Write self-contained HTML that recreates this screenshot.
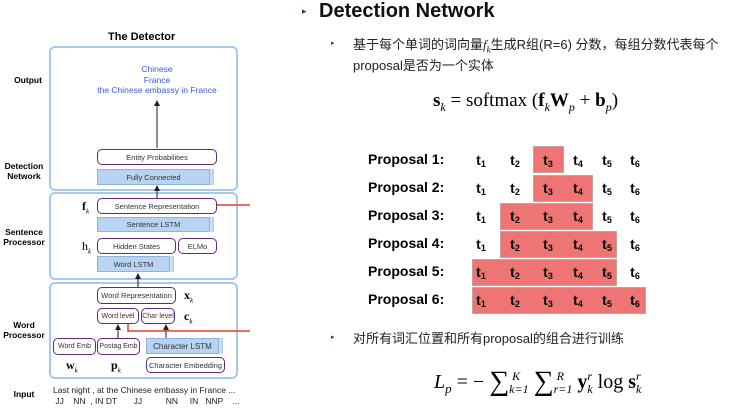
<!DOCTYPE html><html><head><meta charset="utf-8"><style>
body{margin:0;width:738px;height:413px;position:relative;background:#fff;font-family:"Liberation Sans","Noto Sans CJK SC",sans-serif;overflow:hidden}
.a{position:absolute}
.ob{position:absolute;border:2px solid #a8c8ec;border-radius:6px}
.w{position:absolute;border:1.5px solid #5b2c7a;border-radius:5px;background:#fff;font-size:7.5px;color:#333;display:flex;align-items:center;justify-content:center;box-sizing:border-box;white-space:nowrap}
.b{position:absolute;background:#b9d3f3;border:1px solid #8fb3e0;box-shadow:2px 0 0 #cfe0f6,4px 0 0 #b9d3f3;font-size:7.5px;color:#333;display:flex;align-items:center;justify-content:center;box-sizing:border-box}
.lab{position:absolute;font-size:8.5px;font-weight:bold;text-align:center;line-height:10px}
.m{position:absolute;font-family:"Liberation Serif",serif}
.m sub,.m sup{line-height:0}
.p{position:absolute;font-size:14px;font-weight:bold;left:368px}
.t{position:absolute;font-size:14px;font-weight:bold;width:30px;text-align:center;line-height:16px}
.t span{font-size:9px;position:relative;top:2px}
.r{position:absolute;background:#ef7575;border:1px solid #c9a0a0;box-sizing:border-box}
.lim{display:inline-block;vertical-align:middle;font-size:12px;line-height:13px;text-align:left;font-style:italic}
</style></head><body>
<div class="a" style="left:108px;top:31px;font-size:11px;font-weight:bold">The Detector</div>
<div class="ob" style="left:49px;top:46px;width:185px;height:141px"></div>
<div class="ob" style="left:49px;top:192px;width:185px;height:84px"></div>
<div class="ob" style="left:49px;top:282px;width:185px;height:93px"></div>
<div class="lab" style="left:8px;top:75px;width:40px">Output</div>
<div class="lab" style="left:0px;top:161px;width:48px">Detection<br>Network</div>
<div class="lab" style="left:0px;top:227px;width:48px">Sentence<br>Processor</div>
<div class="lab" style="left:0px;top:320px;width:48px">Word<br>Processor</div>
<div class="lab" style="left:6px;top:389px;width:36px">Input</div>
<div class="a" style="left:70px;top:64px;width:174px;text-align:center;color:#3a57e0;font-size:8.5px;line-height:10.5px">Chinese<br>France<br>the Chinese embassy in France</div>
<svg class="a" style="left:0;top:0" width="260" height="413">
<defs><marker id="ar" markerWidth="6" markerHeight="6" refX="3" refY="3" orient="auto"><path d="M0,0L6,3L0,6z" fill="#222"/></marker></defs>
<line x1="157" y1="148" x2="157" y2="103" stroke="#222" stroke-width="1" marker-end="url(#ar)"/>
<line x1="157" y1="198" x2="157" y2="188" stroke="#222" stroke-width="1" marker-end="url(#ar)"/>
<line x1="138" y1="287" x2="138" y2="276" stroke="#222" stroke-width="1" marker-end="url(#ar)"/>
<line x1="118" y1="338" x2="118" y2="327" stroke="#222" stroke-width="1" marker-end="url(#ar)"/>
<line x1="166" y1="338" x2="166" y2="327" stroke="#222" stroke-width="1" marker-end="url(#ar)"/>
<line x1="217" y1="205" x2="250" y2="205" stroke="#e0402a" stroke-width="1.5"/>
<polyline points="128,324 128,331 250,331" fill="none" stroke="#e0402a" stroke-width="1.5"/>
</svg>
<div class="w" style="left:97px;top:149px;width:120px;height:16px">Entity Probabilities</div>
<div class="b" style="left:97px;top:169px;width:113px;height:16px">Fully Connected</div>
<div class="w" style="left:97px;top:198px;width:120px;height:16px">Sentence Representation</div>
<div class="b" style="left:97px;top:217px;width:113px;height:15px">Sentence LSTM</div>
<div class="w" style="left:97px;top:238px;width:79px;height:16px">Hidden States</div>
<div class="w" style="left:178px;top:238px;width:39px;height:16px">ELMo</div>
<div class="b" style="left:97px;top:256px;width:73px;height:16px">Word LSTM</div>
<div class="w" style="left:97px;top:287px;width:79px;height:17px">Word Representation</div>
<div class="w" style="left:97px;top:308px;width:42px;height:16px;font-size:7px">Word level</div>
<div class="w" style="left:141px;top:308px;width:34px;height:16px;font-size:7px">Char level</div>
<div class="w" style="left:53px;top:338px;width:43px;height:17px;font-size:7px">Word Emb</div>
<div class="w" style="left:97px;top:338px;width:43px;height:17px;font-size:7px">Postag Emb</div>
<div class="b" style="left:146px;top:338px;width:73px;height:16px;font-size:8px">Character LSTM</div>
<div class="w" style="left:146px;top:357px;width:79px;height:16px">Character Embedding</div>
<div class="m" style="left:82px;top:199px;font-size:12px;font-weight:bold">f<sub style="font-size:7px;font-style:italic;font-weight:normal">k</sub></div>
<div class="m" style="left:82px;top:239px;font-size:12px">h<sub style="font-size:7px;font-style:italic">k</sub></div>
<div class="m" style="left:184px;top:288px;font-size:12px;font-weight:bold">x<sub style="font-size:7px;font-style:italic;font-weight:normal">k</sub></div>
<div class="m" style="left:184px;top:309px;font-size:12px;font-weight:bold">c<sub style="font-size:7px;font-style:italic;font-weight:normal">k</sub></div>
<div class="m" style="left:66px;top:358px;font-size:12px;font-weight:bold">w<sub style="font-size:7px;font-style:italic;font-weight:normal">k</sub></div>
<div class="m" style="left:111px;top:358px;font-size:12px;font-weight:bold">p<sub style="font-size:7px;font-style:italic;font-weight:normal">k</sub></div>
<div class="a" style="left:53px;top:385px;font-size:8.5px;line-height:11px;white-space:pre;color:#222">Last night , at the Chinese embassy in France ...
 JJ    NN  , IN DT       JJ          NN     IN   NNP    ...</div>

<div class="a" style="left:302px;top:6px;font-size:9px;color:#1f3e6e">▸</div>
<div class="a" style="left:319px;top:0px;font-size:20px;font-weight:bold;color:#111">Detection Network</div>
<div class="a" style="left:331px;top:39px;font-size:7px;color:#1f3e6e">▸</div>
<div class="a" style="left:353px;top:34px;font-size:13px;line-height:21px;color:#222;width:385px">基于每个单词的词向量<i style="font-family:'Liberation Serif',serif">f<sub style="font-size:9px;line-height:0">k</sub></i>生成R组(R=6) 分数，每组分数代表每个<br>proposal是否为一个实体</div>
<div class="m" style="left:433px;top:90px;font-size:19px"><b>s</b><sub style="font-size:12px;font-style:italic">k</sub> = softmax (<b>f</b><sub style="font-size:12px;font-style:italic">k</sub><b>W</b><sub style="font-size:12px;font-style:italic">p</sub> + <b>b</b><sub style="font-size:12px;font-style:italic">p</sub>)</div>

<div class="r" style="left:533px;top:146px;width:31px;height:27px"></div>
<div class="r" style="left:533px;top:175px;width:60px;height:27px"></div>
<div class="r" style="left:500px;top:203px;width:93px;height:27px"></div>
<div class="r" style="left:500px;top:231px;width:117px;height:27px"></div>
<div class="r" style="left:472px;top:259px;width:145px;height:27px"></div>
<div class="r" style="left:472px;top:287px;width:174px;height:27px"></div>
<div class="p" style="top:151px">Proposal 1:</div>
<div class="p" style="top:179px">Proposal 2:</div>
<div class="p" style="top:207px">Proposal 3:</div>
<div class="p" style="top:235px">Proposal 4:</div>
<div class="p" style="top:263px">Proposal 5:</div>
<div class="p" style="top:291px">Proposal 6:</div>
<div id="g"></div>
<script>
var xs=[466,500,533,563,592,620],h='';
for(var r=0;r<6;r++)for(var c=0;c<6;c++)h+='<div class="t" style="left:'+xs[c]+'px;top:'+(152+r*28)+'px">t<span>'+(c+1)+'</span></div>';
document.getElementById('g').innerHTML=h;
</script>
<div class="a" style="left:331px;top:333px;font-size:7px;color:#1f3e6e">▸</div>
<div class="a" style="left:353px;top:328px;font-size:13px;color:#222">对所有词汇位置和所有proposal的组合进行训练</div>
<div class="m" style="left:434px;top:363px;font-size:20px;white-space:nowrap;line-height:38px"><i>L</i><sub style="font-size:13px;font-style:italic">p</sub> = − <span style="font-size:28px;vertical-align:-2px">∑</span><span class="lim">&nbsp;K<br>k=1</span> <span style="font-size:28px;vertical-align:-2px">∑</span><span class="lim">&nbsp;R<br>r=1</span> <b>y</b><span class="lim">r<br>k</span> log <b>s</b><span class="lim">r<br>k</span></div>
</body></html>
